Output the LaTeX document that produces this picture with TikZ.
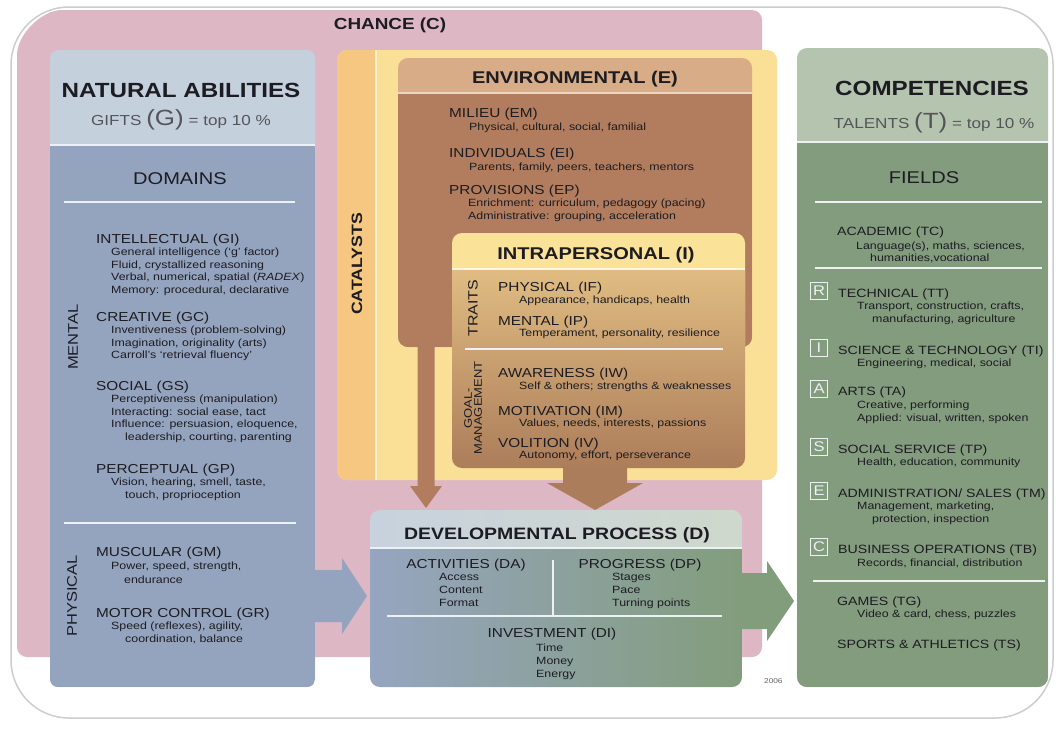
\documentclass[tikz,border=0pt]{standalone}
\usepackage{fontspec}
\setmainfont{Liberation Sans}[FakeStretch=1.18]
\usetikzlibrary{calc}

\definecolor{chance}{RGB}{222,183,197}
\definecolor{framegray}{RGB}{205,205,205}
\definecolor{nahead}{RGB}{197,208,221}
\definecolor{nabody}{RGB}{149,164,190}
\definecolor{catcol}{RGB}{246,199,128}
\definecolor{catbg}{RGB}{250,223,150}
\definecolor{envhead}{RGB}{215,172,134}
\definecolor{envbody}{RGB}{177,125,94}
\definecolor{inthead}{RGB}{250,226,152}
\definecolor{inttop}{RGB}{224,188,130}
\definecolor{intbot}{RGB}{172,125,90}
\definecolor{devheadl}{RGB}{200,210,222}
\definecolor{devheadr}{RGB}{207,216,204}
\definecolor{devl}{RGB}{150,165,192}
\definecolor{devr}{RGB}{130,157,124}
\definecolor{comphead}{RGB}{181,196,175}
\definecolor{compbody}{RGB}{131,156,126}
\definecolor{wline}{RGB}{236,241,244}
\definecolor{ink}{RGB}{28,28,34}

\begin{document}
\begin{tikzpicture}[x=1pt,y=-1pt,
  every node/.style={text=ink, inner sep=0pt},
  big/.style={font=\bfseries\fontsize{20.5}{24}\selectfont},
  hd/.style={font=\bfseries\fontsize{17}{20}\selectfont},
  ttl/.style={anchor=base west, font=\fontsize{13}{15}\selectfont},
  cttl/.style={anchor=base, font=\fontsize{13}{15}\selectfont},
  fttl/.style={anchor=base west, font=\fontsize{12}{15}\selectfont},
  sub/.style={anchor=base west, font=\fontsize{10.5}{12.5}\selectfont},
  side/.style={rotate=90, font=\fontsize{14}{16}\selectfont},
  wsep/.style={wline, line width=1.8pt},
  letbox/.style={draw=wline, line width=1.2pt, minimum size=17pt, text=wline, font=\fontsize{14}{14}\selectfont}]
\useasboundingbox (0,0) rectangle (1056,729);
% frame and chance
\draw[framegray, line width=1.5pt, fill=white, rounded corners=58] (11,7) rectangle (1053,718);
\fill[chance, rounded corners=10] (17,65) arc[start angle=180, end angle=270, radius=55] -- (762,10) -- (762,657) -- (17,657) -- cycle;
\node[anchor=base, font=\bfseries\fontsize{16}{18}\selectfont] (chance) at (390,29) {CHANCE (C)};

% natural abilities
\fill[nahead, rounded corners=8] (50,50) rectangle (315,687);
\begin{scope}
  \clip[rounded corners=8] (50,50) rectangle (315,687);
  \fill[nabody] (50,145) rectangle (315,687);
\end{scope}
\draw[wsep] (50,145) -- (315,145);
\node[big, anchor=base] (na) at (181,97) {NATURAL ABILITIES};
\node[anchor=base, font=\fontsize{14.5}{17}\selectfont, text=ink!75] (gifts) at (181,125) {GIFTS {\fontsize{22}{22}\selectfont(G)} = top 10 \%};
\node[anchor=base, font=\fontsize{17}{20}\selectfont] (dom) at (180,184) {DOMAINS};
\draw[wsep] (64,202) -- (295,202);
\draw[wsep] (64,523) -- (296,523);
\node[side] (mental) at (73,337) {MENTAL};
\node[side] (physical) at (72,596) {PHYSICAL};
\node[ttl] (gi) at (96,243) {INTELLECTUAL (GI)};
\foreach \t [count=\i] in {{General intelligence (`g' factor)},{Fluid, crystallized reasoning},{Verbal, numerical, spatial (\textit{RADEX})},{Memory: procedural, declarative}}
  \node[sub] (gi\i) at (111,243+12.6*\i) {\t};
\node[ttl] (gc) at (96,321) {CREATIVE (GC)};
\foreach \t [count=\i] in {{Inventiveness (problem-solving)},{Imagination, originality (arts)},{Carroll's `retrieval fluency'}}
  \node[sub] (gc\i) at (111,321+12.6*\i) {\t};
\node[ttl] (gs) at (96,390) {SOCIAL (GS)};
\foreach \t [count=\i] in {{Perceptiveness (manipulation)},{Interacting: social ease, tact},{Influence: persuasion, eloquence,},{\hspace*{14pt}leadership, courting, parenting}}
  \node[sub] (gs\i) at (111,390+12.6*\i) {\t};
\node[ttl] (gp) at (96,473) {PERCEPTUAL (GP)};
\foreach \t [count=\i] in {{Vision, hearing, smell, taste,},{\hspace*{14pt}touch, proprioception}}
  \node[sub] (gp\i) at (111,473+12.8*\i) {\t};
\node[ttl] (gm) at (96,556) {MUSCULAR (GM)};
\foreach \t [count=\i] in {{Power, speed, strength,},{\hspace*{13pt}endurance}}
  \node[sub] (gm\i) at (111,556+13.5*\i) {\t};
\node[ttl] (gr) at (96,617) {MOTOR CONTROL (GR)};
\foreach \t [count=\i] in {{Speed (reflexes), agility,},{\hspace*{14pt}coordination, balance}}
  \node[sub] (gr\i) at (111,617+12.8*\i) {\t};

% catalysts
\fill[catbg, rounded corners=10] (337,50) rectangle (777,480);
\begin{scope}
  \clip[rounded corners=10] (337,50) rectangle (777,480);
  \fill[catcol] (337,50) rectangle (375,480);
\end{scope}
\draw[white!55!catbg, line width=2pt] (376,50) -- (376,480);
\node[side, font=\bfseries\fontsize{15}{17}\selectfont] (cat) at (357,264) {CATALYSTS};

% environmental
\fill[envhead, rounded corners=10] (398,58) rectangle (752,347);
\begin{scope}
  \clip[rounded corners=10] (398,58) rectangle (752,347);
  \fill[envbody] (398,93) rectangle (752,347);
\end{scope}
\draw[envhead!50!white, line width=1.5pt] (398,93) -- (752,93);
\node[hd, anchor=base] (env) at (575,83) {ENVIRONMENTAL (E)};
\node[ttl] (em) at (449,117) {MILIEU (EM)};
\node[sub] (em1) at (469,130) {Physical, cultural, social, familial};
\node[ttl] (ei) at (449,157) {INDIVIDUALS (EI)};
\node[sub] (ei1) at (469,170) {Parents, family, peers, teachers, mentors};
\node[ttl] (ep) at (449,194) {PROVISIONS (EP)};
\foreach \t [count=\i] in {{Enrichment: curriculum, pedagogy (pacing)},{Administrative: grouping, acceleration}}
  \node[sub] (ep\i) at (468,194+12.5*\i) {\t};

% intrapersonal
\fill[inthead, rounded corners=10] (452,233) rectangle (745,468);
\begin{scope}
  \clip[rounded corners=10] (452,233) rectangle (745,468);
  \shade[top color=inttop, bottom color=intbot] (452,269) rectangle (745,468);
\end{scope}
\draw[white!70!inthead, line width=1.5pt] (452,269) -- (745,269);
\draw[wsep] (465,349) -- (723,349);
\node[hd, anchor=base] (intra) at (596,259) {INTRAPERSONAL (I)};
\node[side, font=\fontsize{13.5}{15}\selectfont] (traits) at (473,308) {TRAITS};
\node[side, align=center, font=\fontsize{11}{10}\selectfont] (goal) at (473,408) {GOAL-\\MANAGEMENT};
\node[ttl] (if) at (498,291) {PHYSICAL (IF)};
\node[sub] (if1) at (519,303) {Appearance, handicaps, health};
\node[ttl] (ip) at (498,325) {MENTAL (IP)};
\node[sub] (ip1) at (519,336) {Temperament, personality, resilience};
\node[ttl] (iw) at (498,377) {AWARENESS (IW)};
\node[sub] (iw1) at (519,389) {Self \& others; strengths \& weaknesses};
\node[ttl] (im) at (498,415) {MOTIVATION (IM)};
\node[sub] (im1) at (519,426) {Values, needs, interests, passions};
\node[ttl] (iv) at (498,447) {VOLITION (IV)};
\node[sub] (iv1) at (519,458) {Autonomy, effort, perseverance};

% developmental process
\begin{scope}
  \clip[rounded corners=10] (370,510) rectangle (742,687);
  \shade[left color=devheadl, right color=devheadr] (370,510) rectangle (742,548);
  \shade[left color=devl, right color=devr] (370,548) rectangle (742,687);
\end{scope}
\draw[wline, line width=1.5pt] (370,548) -- (742,548);
\node[anchor=base, font=\bfseries\fontsize{16.5}{19}\selectfont] (dev) at (557,539) {DEVELOPMENTAL PROCESS (D)};
\draw[wsep] (553,560) -- (553,615);
\draw[wsep] (387,616) -- (722,616);
\node[cttl] (da) at (466,568) {ACTIVITIES (DA)};
\foreach \t [count=\i] in {Access,Content,Format}
  \node[sub] (da\i) at (439,567+13*\i) {\t};
\node[cttl] (dp) at (640,568) {PROGRESS (DP)};
\foreach \t [count=\i] in {Stages,Pace,Turning points}
  \node[sub] (dp\i) at (612,567+13*\i) {\t};
\node[cttl] (di) at (552,637) {INVESTMENT (DI)};
\foreach \t [count=\i] in {Time,Money,Energy}
  \node[sub] (di\i) at (536,638+13*\i) {\t};
\node[anchor=base west, font=\fontsize{7}{8}\selectfont, text=ink!70] (yr) at (764,683) {2006};

% competencies
\fill[comphead, rounded corners=10] (797,48) rectangle (1048,687);
\begin{scope}
  \clip[rounded corners=10] (797,48) rectangle (1048,687);
  \fill[compbody] (797,142) rectangle (1048,687);
\end{scope}
\draw[wline, line width=1.5pt] (797,142) -- (1048,142);
\node[big, anchor=base] (comp) at (932,95) {COMPETENCIES};
\node[anchor=base, font=\fontsize{14.5}{17}\selectfont, text=ink!75] (tal) at (934,128) {TALENTS {\fontsize{22}{22}\selectfont(T)} = top 10 \%};
\node[anchor=base, font=\fontsize{17}{20}\selectfont] (fld) at (924,183) {FIELDS};
\draw[wsep] (815,202) -- (1042,202);
\node[fttl] (tc) at (837,235) {ACADEMIC (TC)};
\node[sub] (tc1) at (856,249) {Language(s), maths, sciences,};
\node[sub] (tc2) at (870,261) {humanities,vocational};
\draw[wsep] (815,268) -- (1042,268);
\foreach \l/\y/\n/\t in {R/297/tt/{TECHNICAL (TT)}, I/354/ti/{SCIENCE \& TECHNOLOGY (TI)}, A/395/ta/{ARTS (TA)}, S/453/tp/{SOCIAL SERVICE (TP)}, E/497/tm/{ADMINISTRATION/ SALES (TM)}, C/553/tb/{BUSINESS OPERATIONS (TB)}}
{
  \node[letbox] (\n-l) at (819,\y-6) {\l};
  \node[fttl] (\n) at (838,\y) {\t};
}
\node[sub] (tt1) at (857,309) {Transport, construction, crafts,};
\node[sub] (tt2) at (872,322) {manufacturing, agriculture};
\node[sub] (ti1) at (857,366) {Engineering, medical, social};
\node[sub] (ta1) at (857,408) {Creative, performing};
\node[sub] (ta2) at (857,421) {Applied: visual, written, spoken};
\node[sub] (tp1) at (857,465) {Health, education, community};
\node[sub] (tm1) at (857,509) {Management, marketing,};
\node[sub] (tm2) at (872,522) {protection, inspection};
\node[sub] (tb1) at (857,566) {Records, financial, distribution};
\draw[wsep] (813,581) -- (1045,581);
\node[fttl] (tg) at (837,605) {GAMES (TG)};
\node[sub] (tg1) at (857,617) {Video \& card, chess, puzzles};
\node[fttl] (ts) at (837,648) {SPORTS \& ATHLETICS (TS)};

% arrows
\coordinate (envB) at (426,347);
\coordinate (devT1) at (426,508);
\fill[envbody] ($(envB)+(-8.5,-2)$) -- ($(devT1)+(-8.5,-22)$) -- ($(devT1)+(-16,-22)$) -- (devT1)
  -- ($(devT1)+(16,-22)$) -- ($(devT1)+(8.5,-22)$) -- ($(envB)+(8.5,-2)$) -- cycle;
\coordinate (intB) at (595,466);
\coordinate (devT2) at (595,510);
\fill[intbot] ($(intB)+(-32,0)$) -- ($(devT2)+(-32,-27)$) -- ($(devT2)+(-48,-27)$) -- (devT2)
  -- ($(devT2)+(48,-27)$) -- ($(devT2)+(32,-27)$) -- ($(intB)+(32,0)$) -- cycle;
\coordinate (naR) at (313,596);
\coordinate (devL) at (367,596);
\fill[nabody] ($(naR)+(0,-26)$) -- ($(devL)+(-25,-26)$) -- ($(devL)+(-25,-38)$) -- (devL)
  -- ($(devL)+(-25,38)$) -- ($(devL)+(-25,26)$) -- ($(naR)+(0,26)$) -- cycle;
\coordinate (devR) at (740,601);
\coordinate (compL) at (794,601);
\fill[devr] ($(devR)+(0,-28)$) -- ($(compL)+(-27,-28)$) -- ($(compL)+(-27,-40)$) -- (compL)
  -- ($(compL)+(-27,40)$) -- ($(compL)+(-27,28)$) -- ($(devR)+(0,28)$) -- cycle;
\end{tikzpicture}
\end{document}
